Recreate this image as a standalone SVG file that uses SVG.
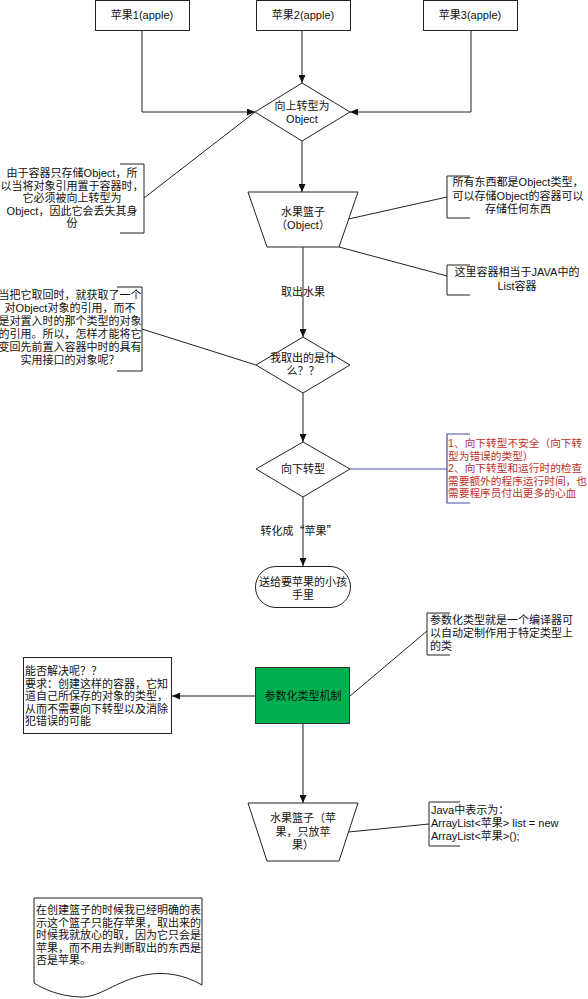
<svg xmlns="http://www.w3.org/2000/svg" width="588" height="999" viewBox="0 0 588 999">
<style>
text{font-family:"Liberation Sans","Noto Sans CJK SC",sans-serif;font-size:11px;fill:#111}
.c{text-anchor:middle}
.shape{fill:#fff;stroke:#222;stroke-width:1}
.br{fill:none;stroke:#222;stroke-width:1}
.ln{fill:none;stroke:#222;stroke-width:1}
.gl{fill:none;stroke:#666;stroke-width:1.5}
.red{fill:#c0302a;font-size:10.7px}
.cjk{font-family:"Noto Sans CJK SC",sans-serif}
</style>
<defs>
<marker id="ah" viewBox="0 0 8 7" markerWidth="8" markerHeight="7" refX="8" refY="3.5" orient="auto" markerUnits="userSpaceOnUse"><path d="M0,0 L8,3.5 L0,7 z" fill="#111"/></marker>
</defs>
<rect width="588" height="999" fill="#fff"/>
<g id="connectors">
<path class="ln" d="M142,31 V112 H255" marker-end="url(#ah)"/>
<path class="ln" d="M302,31 V83" marker-end="url(#ah)"/>
<path class="ln" d="M471,31 V112 H350" marker-end="url(#ah)"/>
<path class="ln" d="M144,198 L255,112"/>
<path class="ln" d="M302,141 V192" marker-end="url(#ah)"/>
<path class="ln" d="M348.5,219 L447,197"/>
<path class="ln" d="M339,247 L447,276"/>
<path class="ln" d="M303,247 V337" marker-end="url(#ah)"/>
<path class="ln" d="M142,329 L256,365"/>
<path class="ln" d="M303,393 V442" marker-end="url(#ah)"/>
<path fill="none" stroke="#4a4aa8" stroke-width="1.2" d="M350,469 H447"/>
<path class="ln" d="M303,497 V566" marker-end="url(#ah)"/>
<path class="ln" d="M350,696 L427,631"/>
<path class="gl" d="M255,696 H172" marker-end="url(#ah)"/>
<path class="gl" d="M303,724 V803" marker-end="url(#ah)"/>
<path class="ln" d="M348.5,832 L429,824"/>
</g>
<g id="apple1"><rect class="shape" x="95.5" y="0.5" width="94" height="30"/><text class="c" x="142" y="19">苹果1(apple)</text></g>
<g id="apple2"><rect class="shape" x="256.5" y="0.5" width="94" height="30"/><text class="c" x="303" y="19">苹果2(apple)</text></g>
<g id="apple3"><rect class="shape" x="423.5" y="0.5" width="94" height="30"/><text class="c" x="470" y="19">苹果3(apple)</text></g>
<g id="upcast"><path class="shape" d="M302,83 L350,112 L302,141 L255,112 Z"/><text class="c" x="302" y="110">向上转型为</text><text class="c" x="302" y="122.5">Object</text></g>
<g id="note1"><path class="br" d="M120,164 H144 V233 H120"/>
<text class="c" x="72" y="177">由于容器只存储Object，所</text>
<text class="c" x="72" y="189.5">以当将对象引用置于容器时，</text>
<text class="c" x="72" y="202">它必须被向上转型为</text>
<text class="c" x="72" y="214.5">Object，因此它会丢失其身</text>
<text class="c" x="72" y="227">份</text></g>
<g id="basket1"><path class="shape" d="M248,192 H358 L339,247 H267 Z"/><text class="c" x="303" y="216">水果篮子</text><text class="c" x="303" y="229">（Object）</text></g>
<g id="note2"><path class="br" d="M470,176 H447 V218 H470"/>
<text class="c" x="518" y="186">所有东西都是Object类型，</text>
<text class="c" x="518" y="199.5">可以存储Object的容器可以</text>
<text class="c" x="518" y="213">存储任何东西</text></g>
<g id="note3"><path class="br" d="M470,265 H447 V295 H470"/>
<text class="c" x="517" y="276">这里容器相当于JAVA中的</text>
<text class="c" x="517" y="290">List容器</text></g>
<g id="label-take"><text class="c" x="303" y="296">取出水果</text></g>
<g id="note4"><path class="br" d="M117,287 H142 V371 H117"/>
<text class="c" x="70" y="299">当把它取回时，就获取了一个</text>
<text class="c" x="70" y="312">对Object对象的引用，而不</text>
<text class="c" x="70" y="325">是对置入时的那个类型的对象</text>
<text class="c" x="70" y="338">的引用。所以，怎样才能将它</text>
<text class="c" x="70" y="351">变回先前置入容器中时的具有</text>
<text class="c" x="70" y="364">实用接口的对象呢？</text></g>
<g id="what"><path class="shape" d="M303,337 L350,365 L303,393 L256,365 Z"/><text class="c" x="303" y="362">我取出的是什</text><text class="c" x="303" y="375">么？？</text></g>
<g id="downcast"><path class="shape" d="M303,442 L350,469 L303,497 L256,469 Z"/><text class="c" x="303" y="473">向下转型</text></g>
<g id="note5"><path fill="none" stroke="#4a4aa8" stroke-width="1.2" d="M470,434 H447 V503 H470"/>
<text class="red" x="448" y="447">1、向下转型不安全（向下转</text>
<text class="red" x="448" y="459.5">型为错误的类型）</text>
<text class="red" x="448" y="472">2、向下转型和运行时的检查</text>
<text class="red" x="448" y="484.5">需要额外的程序运行时间，也</text>
<text class="red" x="448" y="497">需要程序员付出更多的心血</text></g>
<g id="label-convert"><text class="c cjk" x="299" y="535">转化成“苹果”</text></g>
<g id="child"><rect class="shape" x="255.5" y="566.5" width="95" height="41" rx="20.5" ry="20.5"/><text class="c" x="303" y="586">送给要苹果的小孩</text><text class="c" x="303" y="599">手里</text></g>
<g id="note6"><path class="br" d="M450,613 H427 V655 H450"/>
<text x="430" y="624">参数化类型就是一个编译器可</text>
<text x="430" y="637">以自动定制作用于特定类型上</text>
<text x="430" y="650">的类</text></g>
<g id="generic"><rect x="255.5" y="667.5" width="94" height="56" fill="#00b050" stroke="#333" stroke-width="1"/><text class="c" x="303" y="700">参数化类型机制</text></g>
<g id="note7"><rect class="shape" x="23.5" y="657.5" width="148" height="76"/>
<text x="25" y="675">能否解决呢？？</text>
<text x="25" y="687.5">要求：创建这样的容器，它知</text>
<text x="25" y="700">道自己所保存的对象的类型，</text>
<text x="25" y="712.5">从而不需要向下转型以及消除</text>
<text x="25" y="725">犯错误的可能</text></g>
<g id="basket2"><path class="shape" d="M248,803 H358 L339,861 H267 Z"/>
<text class="c" x="303" y="822">水果篮子（苹</text>
<text class="c" x="303" y="835.5">果，只放苹</text>
<text class="c" x="303" y="849">果）</text></g>
<g id="note8"><path class="br" d="M460,802 H429 V846 H460"/>
<text x="431" y="814">Java中表示为：</text>
<text x="431" y="827">ArrayList&lt;苹果&gt; list = new</text>
<text x="431" y="840">ArrayList&lt;苹果&gt;();</text></g>
<g id="doc"><path class="shape" d="M34,898 H202 V985 C185,975 165,971 145,975 C115,981 100,998 80,997 C60,996 45,990 34,983 Z"/>
<text x="36" y="914">在创建篮子的时候我已经明确的表</text>
<text x="36" y="926.5">示这个篮子只能存苹果，取出来的</text>
<text x="36" y="939">时候我就放心的取，因为它只会是</text>
<text x="36" y="951.5">苹果，而不用去判断取出的东西是</text>
<text x="36" y="964">否是苹果。</text></g>
</svg>
